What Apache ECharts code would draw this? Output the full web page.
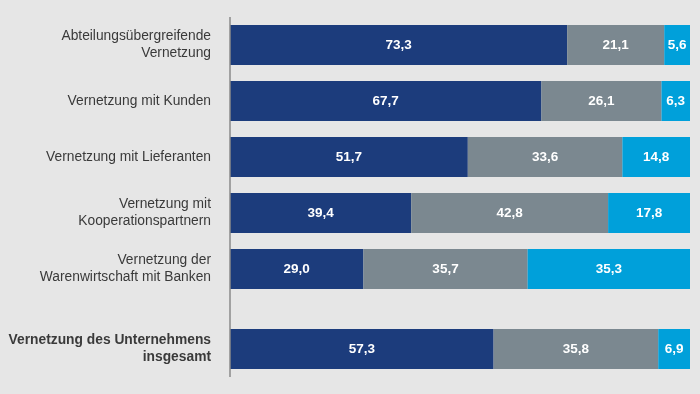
<!DOCTYPE html>
<html><head><meta charset="utf-8">
<script src="https://cdn.jsdelivr.net/npm/echarts@6/dist/echarts.min.js"></script>
<style>html,body{margin:0;padding:0;background:#e6e6e6;}#c{width:700px;height:394px;}</style>
</head><body><div id="c"></div>
<script>
const categories = ['Abteilungsübergreifende\nVernetzung','Vernetzung mit Kunden','Vernetzung mit Lieferanten','Vernetzung mit\nKooperationspartnern','Vernetzung der\nWarenwirtschaft mit Banken'];
const totalCategory = ['Vernetzung des Unternehmens\ninsgesamt'];
const s1 = [73.3, 67.7, 51.7, 39.4, 29.0];
const s2 = [21.1, 26.1, 33.6, 42.8, 35.7];
const s3 = [5.6, 6.3, 14.8, 17.8, 35.3];
const t1 = [57.3], t2 = [35.8], t3 = [6.9];
const colors = ['#1c3c7c', '#7b8890', '#00a0da'];
const fmt = p => p.value.toFixed(1).replace('.', ',');
const chart = echarts.init(document.getElementById('c'));
const lbl = {show: true, position: 'inside', color: '#fff', fontWeight: 'bold', fontSize: 13.5, fontFamily: 'Liberation Sans, Arial, sans-serif', formatter: fmt};
function mk(data, idx, color, gi) {
  return {type: 'bar', stack: 's' + gi, xAxisIndex: gi, yAxisIndex: gi, data: data, barWidth: 40, itemStyle: {color: color}, label: lbl, silent: true};
}
const axLabel = {color: '#3a3a3a', fontSize: 13.8, fontFamily: 'Liberation Sans, Arial, sans-serif', lineHeight: 17, margin: 19, align: 'right'};
chart.setOption({
  backgroundColor: '#e6e6e6',
  animation: false,
  grid: [
    {left: 230, right: 10, top: 17, height: 280},
    {left: 230, right: 10, top: 321, height: 56}
  ],
  xAxis: [
    {type: 'value', gridIndex: 0, min: 0, max: 100, show: false},
    {type: 'value', gridIndex: 1, min: 0, max: 100, show: false}
  ],
  yAxis: [
    {type: 'category', gridIndex: 0, inverse: true, data: categories, axisTick: {show: false}, axisLine: {show: false}, axisLabel: axLabel},
    {type: 'category', gridIndex: 1, inverse: true, data: totalCategory, axisTick: {show: false}, axisLine: {show: false}, axisLabel: Object.assign({}, axLabel, {fontWeight: 'bold'})}
  ],
  graphic: [{type: 'line', shape: {x1: 230, y1: 17, x2: 230, y2: 377}, style: {stroke: '#8a8a8a', lineWidth: 1.5}, z: 100}],
  series: [
    mk(s1, 0, colors[0], 0), mk(s2, 1, colors[1], 0), mk(s3, 2, colors[2], 0),
    mk(t1, 0, colors[0], 1), mk(t2, 1, colors[1], 1), mk(t3, 2, colors[2], 1)
  ]
});
</script></body></html>
